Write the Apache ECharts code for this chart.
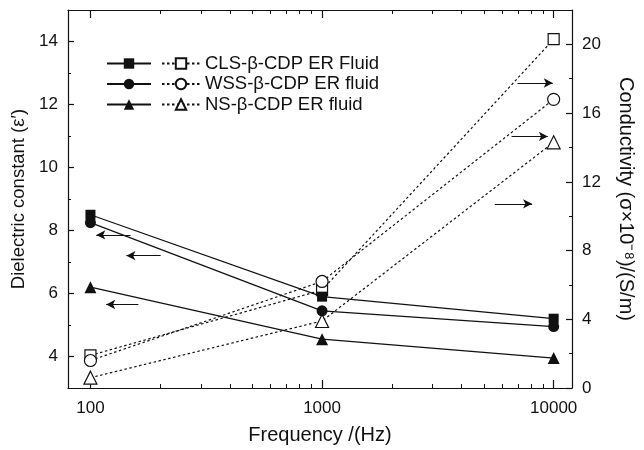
<!DOCTYPE html>
<html>
<head>
<meta charset="utf-8">
<script src="https://cdn.jsdelivr.net/npm/echarts@6/dist/echarts.min.js"></script>
<style>
  html, body { margin: 0; padding: 0; background: #fff; }
  #chart { width: 644px; height: 450px; }
</style>
</head>
<body>
<div id="chart"></div>
<script>
// Frequency points (Hz)
const frequencies = [100, 1000, 10000];

// Dielectric constant (left axis)
const clsEps = [8.5, 5.9, 5.2];
const wssEps = [8.25, 5.45, 4.95];
const nsEps  = [6.2, 4.55, 3.95];

// Conductivity, sigma x 10^-8 S/m (right axis)
const clsSigma = [1.9, 5.7, 20.3];
const wssSigma = [1.6, 6.2, 16.8];
const nsSigma  = [0.6, 3.9, 14.3];

// Tick values
const xMajor = [100, 1000, 10000];
const xMinor = [200, 300, 400, 500, 600, 700, 800, 900, 2000, 3000, 4000, 5000, 6000, 7000, 8000, 9000];
const leftMajor = [4, 6, 8, 10, 12, 14];
const leftMinor = [5, 7, 9, 11, 13];
const rightMajor = [0, 4, 8, 12, 16, 20];
const rightMinor = [2, 6, 10, 14, 18];

// Pointer arrows: [fromX, toX, y]
const leftArrows  = [[149, 106, 7.86], [201, 143, 7.2], [161, 117, 5.65]];
const rightArrows = [[6980, 9910, 17.75], [6580, 9440, 14.64], [5570, 8070, 10.72]];

const FONT = "'Liberation Sans', Arial, sans-serif";
const INK = '#111';

function pairs(xs, ys) { return xs.map((x, i) => [x, ys[i]]); }

const baseX = {
  type: 'log', logBase: 10, min: 80, max: 12000, gridIndex: 0,
  splitLine: { show: false }, minorSplitLine: { show: false }
};
const axisLineStyle = { color: INK, width: 1.2 };

const xAxes = [
  Object.assign({}, baseX, {
    position: 'bottom',
    axisLine: { show: true, lineStyle: axisLineStyle },
    axisTick: { show: true, inside: true, length: 8, customValues: xMajor, lineStyle: { color: INK, width: 1.2 } },
    axisLabel: { show: true, customValues: xMajor, color: INK, fontSize: 17, fontFamily: FONT, margin: 12,
                 formatter: v => String(Math.round(v)) },
    name: 'Frequency /(Hz)', nameLocation: 'middle', nameGap: 37,
    nameTextStyle: { color: INK, fontSize: 20, fontFamily: FONT }
  }),
  Object.assign({}, baseX, {
    position: 'bottom',
    axisLine: { show: false },
    axisTick: { show: true, inside: true, length: 4, customValues: xMinor, lineStyle: { color: INK, width: 1 } },
    axisLabel: { show: false }
  }),
  Object.assign({}, baseX, {
    position: 'top',
    axisLine: { show: true, lineStyle: axisLineStyle },
    axisTick: { show: true, inside: true, length: 8, customValues: xMajor, lineStyle: { color: INK, width: 1.2 } },
    axisLabel: { show: false }
  }),
  Object.assign({}, baseX, {
    position: 'top',
    axisLine: { show: false },
    axisTick: { show: true, inside: true, length: 4, customValues: xMinor, lineStyle: { color: INK, width: 1 } },
    axisLabel: { show: false }
  })
];

const yAxes = [
  {
    type: 'value', position: 'left', min: 3, max: 15,
    splitLine: { show: false },
    axisLine: { show: true, lineStyle: axisLineStyle },
    axisTick: { show: true, inside: true, length: 6, customValues: leftMajor, lineStyle: { color: INK, width: 1.2 } },
    axisLabel: { show: true, customValues: leftMajor, color: INK, fontSize: 17, fontFamily: FONT, margin: 10 },
    name: "Dielectric constant (\u03B5\u2032)", nameLocation: 'middle', nameGap: 36, nameRotate: 90,
    nameTextStyle: { color: INK, fontSize: 18.5, fontFamily: FONT }
  },
  {
    type: 'value', position: 'right', min: 0, max: 22,
    splitLine: { show: false },
    axisLine: { show: true, lineStyle: axisLineStyle },
    axisTick: { show: true, inside: true, length: 6, customValues: rightMajor, lineStyle: { color: INK, width: 1.2 } },
    axisLabel: { show: true, customValues: rightMajor, color: INK, fontSize: 17, fontFamily: FONT, margin: 10 },
    name: "Conductivity (\u03C3\u00D710\u207B\u2078)/(S/m)", nameLocation: 'middle', nameGap: 44, nameRotate: -90,
    nameTextStyle: { color: INK, fontSize: 20, fontFamily: FONT }
  },
  {
    type: 'value', position: 'left', min: 3, max: 15,
    splitLine: { show: false },
    axisLine: { show: false },
    axisTick: { show: true, inside: true, length: 3, customValues: leftMinor, lineStyle: { color: INK, width: 1 } },
    axisLabel: { show: false }
  },
  {
    type: 'value', position: 'right', min: 0, max: 22,
    splitLine: { show: false },
    axisLine: { show: false },
    axisTick: { show: true, inside: true, length: 3, customValues: rightMinor, lineStyle: { color: INK, width: 1 } },
    axisLabel: { show: false }
  }
];

function arrowLines(list) {
  return list.map(a => [
    { coord: [a[0], a[2]], symbol: 'none' },
    { coord: [a[1], a[2]], symbol: 'arrow' }
  ]);
}

function solidSeries(name, data, symbol, size, arrows) {
  const s = {
    name: name, type: 'line', xAxisIndex: 0, yAxisIndex: 0,
    data: pairs(frequencies, data),
    symbol: symbol, symbolSize: size, showAllSymbol: true,
    lineStyle: { color: INK, width: 1.2, type: 'solid' },
    itemStyle: { color: INK, borderColor: INK, borderWidth: 0 },
    z: 3
  };
  if (arrows) {
    s.markLine = {
      silent: true, symbolSize: [7, 9], label: { show: false },
      lineStyle: { color: INK, width: 1, type: 'solid' },
      data: arrowLines(arrows)
    };
  }
  return s;
}

function openSeries(name, data, symbol, size, arrows) {
  const s = {
    name: name, type: 'line', xAxisIndex: 0, yAxisIndex: 1,
    data: pairs(frequencies, data),
    symbol: symbol, symbolSize: size, showAllSymbol: true,
    lineStyle: { color: INK, width: 1.2, type: [2.5, 2.5] },
    itemStyle: { color: '#fff', borderColor: INK, borderWidth: 1.2 },
    z: 2
  };
  if (arrows) {
    s.markLine = {
      silent: true, symbolSize: [7, 9], label: { show: false },
      lineStyle: { color: INK, width: 1, type: 'solid' },
      data: arrowLines(arrows)
    };
  }
  return s;
}

const names = {
  clsE: 'CLS-\u03B2-CDP ER Fluid \u03B5', wssE: 'WSS-\u03B2-CDP ER fluid \u03B5', nsE: 'NS-\u03B2-CDP ER fluid \u03B5',
  clsS: 'CLS-\u03B2-CDP ER Fluid', wssS: 'WSS-\u03B2-CDP ER fluid', nsS: 'NS-\u03B2-CDP ER fluid'
};

const series = [
  solidSeries(names.clsE, clsEps, 'rect', 10, leftArrows),
  solidSeries(names.wssE, wssEps, 'circle', 11),
  solidSeries(names.nsE, nsEps, 'triangle', 12),
  openSeries(names.clsS, clsSigma, 'rect', 11, rightArrows),
  openSeries(names.wssS, wssSigma, 'circle', 12),
  openSeries(names.nsS, nsSigma, 'triangle', 13)
];

const legendText = { fontSize: 18.5, color: INK, fontFamily: FONT };

const chart = echarts.init(document.getElementById('chart'), null, { renderer: 'canvas' });
chart.setOption({
  animation: false,
  backgroundColor: '#fff',
  textStyle: { fontFamily: FONT },
  grid: { left: 68, right: 62, top: 10, bottom: 60, containLabel: false },
  legend: [
    {
      orient: 'vertical', left: 101, top: 49, itemWidth: 44, itemHeight: 13, itemGap: 1.5,
      data: [names.clsE, names.wssE, names.nsE],
      formatter: () => ' ', selectedMode: false,
      textStyle: legendText
    },
    {
      orient: 'vertical', left: 156, top: 49, itemWidth: 38, itemHeight: 13, itemGap: 1.5,
      data: [names.clsS, names.wssS, names.nsS],
      selectedMode: false,
      textStyle: legendText
    }
  ],
  xAxis: xAxes,
  yAxis: yAxes,
  series: series
});
</script>
</body>
</html>
